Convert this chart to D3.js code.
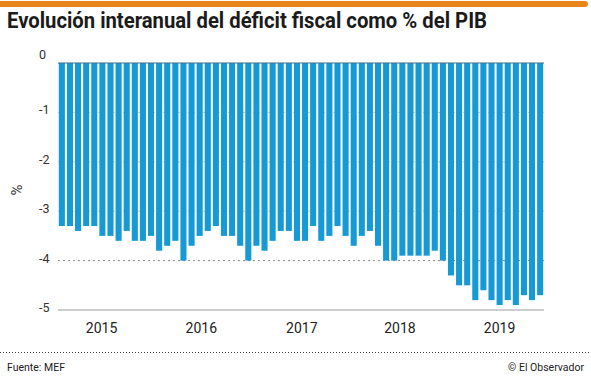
<!DOCTYPE html>
<html>
<head>
<meta charset="utf-8">
<script src="https://cdn.jsdelivr.net/npm/d3@7"></script>
<style>
  body { margin: 0; background: #fff; }
  svg { display: block; font-family: Roboto, "Open Sans", sans-serif; }
</style>
</head>
<body>
<div id="chart"></div>
<script>
// deficit (% of GDP), 60 monthly observations
const deficit = [
  -3.3, -3.3, -3.4, -3.3, -3.3, -3.5, -3.5, -3.6, -3.4, -3.6, -3.6, -3.5,
  -3.8, -3.7, -3.6, -4.0, -3.7, -3.5, -3.4, -3.3, -3.5, -3.5, -3.7, -4.0,
  -3.7, -3.8, -3.6, -3.4, -3.4, -3.6, -3.6, -3.3, -3.6, -3.5, -3.3, -3.5,
  -3.7, -3.5, -3.4, -3.7, -4.0, -4.0, -3.9, -3.9, -3.9, -3.9, -3.8, -4.0,
  -4.3, -4.5, -4.5, -4.8, -4.6, -4.8, -4.9, -4.8, -4.9, -4.7, -4.8, -4.7
];
const yearLabels = ["2015", "2016", "2017", "2018", "2019"];
// where each year label sits, in bar-index units
const yearCenters = [4.9, 17.2, 29.6, 41.7, 54.0];
const yTicks = [0, -1, -2, -3, -4, -5];

const width = 591, height = 376;
const svg = d3.select("#chart").append("svg")
  .attr("width", width)
  .attr("height", height);

// orange strip on top
svg.append("rect")
  .attr("x", -4).attr("y", 1)
  .attr("width", width + 1).attr("height", 6)
  .attr("rx", 3)
  .attr("fill", "#e8861c");

svg.append("text")
  .attr("x", 7).attr("y", 28)
  .attr("font-size", 21.5)
  .attr("font-weight", 700)
  .attr("fill", "#1b1b1b")
  .attr("textLength", 480)
  .attr("lengthAdjust", "spacingAndGlyphs")
  .text("Evolución interanual del déficit fiscal como % del PIB");

const x = d3.scaleBand()
  .domain(d3.range(deficit.length))
  .range([58, 544])
  .paddingInner(0.25)
  .paddingOuter(0.1);

const y = d3.scaleLinear()
  .domain([0, -5])
  .range([63, 310]);

const xIdx = d3.scaleLinear()
  .domain([0, deficit.length - 1])
  .range([x(0) + x.bandwidth() / 2, x(deficit.length - 1) + x.bandwidth() / 2]);

// gridlines
const grid = svg.append("g");
yTicks.filter(t => t < 0).forEach(t => {
  grid.append("line")
    .attr("x1", 58).attr("x2", 544)
    .attr("y1", y(t)).attr("y2", y(t))
    .attr("stroke", t === -5 ? "#bdbdbd" : (t === -4 ? "#8a8a8a" : "#c9c9c9"))
    .attr("stroke-width", t === -5 ? 1.5 : 1)
    .attr("stroke-dasharray", t === -5 ? null : "2,3");
});

// bars
svg.append("g").selectAll("rect")
  .data(deficit)
  .enter()
  .append("rect")
  .attr("x", (d, i) => x(i))
  .attr("y", y(0))
  .attr("width", x.bandwidth())
  .attr("height", d => y(d) - y(0))
  .attr("fill", "#169ad6");

// zero line
svg.append("line")
  .attr("x1", 58).attr("x2", 544)
  .attr("y1", y(0)).attr("y2", y(0))
  .attr("stroke", "#3f6f85")
  .attr("stroke-width", 1);

// y labels
svg.append("g").selectAll("text")
  .data(yTicks)
  .enter()
  .append("text")
  .attr("x", 39)
  .attr("y", d => y(d) + (d === 0 ? -4 : 2))
  .attr("font-size", 12.5)
  .attr("fill", "#333")
  .text(d => d === 0 ? "0" : d3.format("d")(d).replace("−", "-"));

svg.append("text")
  .attr("transform", "translate(22,190) rotate(-90)")
  .attr("text-anchor", "middle")
  .attr("font-size", 15)
  .attr("fill", "#333")
  .text("%");

// year labels
svg.append("g").selectAll("text")
  .data(yearLabels)
  .enter()
  .append("text")
  .attr("x", (d, i) => xIdx(yearCenters[i]))
  .attr("y", 333)
  .attr("text-anchor", "middle")
  .attr("font-size", 14)
  .attr("fill", "#222")
  .text(d => d);

// footer
svg.append("line")
  .attr("x1", 0).attr("x2", width)
  .attr("y1", 352.5).attr("y2", 352.5)
  .attr("stroke", "#444")
  .attr("stroke-dasharray", "1,2");

svg.append("text")
  .attr("x", 7).attr("y", 371)
  .attr("font-size", 10.5)
  .attr("fill", "#222")
  .text("Fuente: MEF");

svg.append("text")
  .attr("x", 584).attr("y", 371)
  .attr("text-anchor", "end")
  .attr("font-size", 10.5)
  .attr("fill", "#222")
  .text("© El Observador");
</script>
</body>
</html>
